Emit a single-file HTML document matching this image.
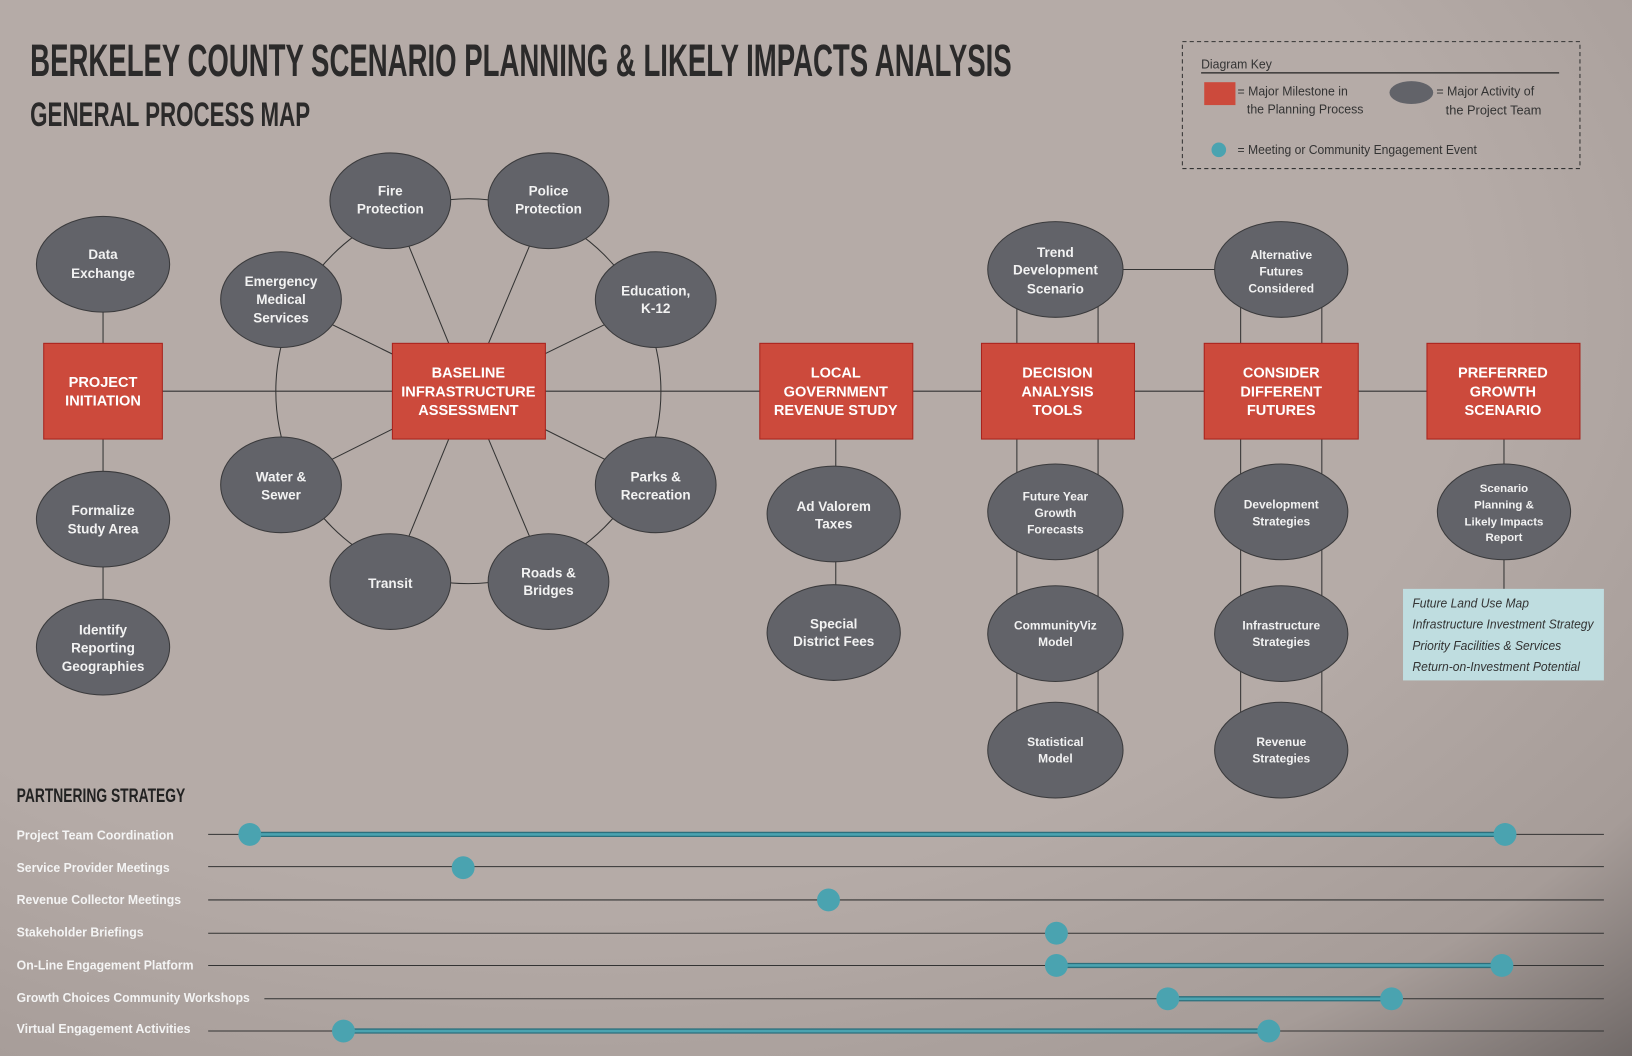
<!DOCTYPE html>
<html><head><meta charset="utf-8"><style>
html,body{margin:0;padding:0;width:1632px;height:1056px;overflow:hidden;}
svg{display:block}
text{font-family:"Liberation Sans",Arial,sans-serif;}
.n{fill:#f2f2f2;font-weight:bold;font-size:13px;text-anchor:middle}
.r{fill:#fff;font-weight:bold;font-size:14px;text-anchor:middle}
.p{fill:#f4f4f4;font-weight:bold;font-size:12.5px}
</style></head><body>
<svg width="1632" height="1056" viewBox="0 0 1568 1015" preserveAspectRatio="none" xmlns="http://www.w3.org/2000/svg">
<defs>
<radialGradient id="bg" cx="0.35" cy="0.3" r="1.0">
<stop offset="0.55" stop-color="#b5aba7"/><stop offset="0.8" stop-color="#a69c98"/><stop offset="1" stop-color="#615b5a"/>
</radialGradient>
</defs>
<rect width="1568" height="1015" fill="url(#bg)"/>
<text x="29" y="73" font-size="44" font-weight="bold" fill="#2b2a2a" textLength="943" lengthAdjust="spacingAndGlyphs">BERKELEY COUNTY SCENARIO PLANNING &amp; LIKELY IMPACTS ANALYSIS</text>
<text x="29" y="121" font-size="33" font-weight="bold" fill="#2b2a2a" textLength="269" lengthAdjust="spacingAndGlyphs">GENERAL PROCESS MAP</text>

<rect x="1136" y="40" width="382" height="122" fill="none" stroke="#333" stroke-dasharray="4,3"/>
<text x="1154" y="66" font-size="12.5" fill="#333" textLength="68" lengthAdjust="spacingAndGlyphs">Diagram Key</text>
<line x1="1154" y1="70" x2="1498" y2="70" stroke="#222" stroke-width="1.2"/>
<rect x="1157" y="79" width="30" height="22" fill="#cc4a3c"/>
<text x="1189" y="92" font-size="12.5" fill="#333" textLength="106" lengthAdjust="spacingAndGlyphs">= Major Milestone in</text>
<text x="1198" y="109" font-size="12.5" fill="#333" textLength="112" lengthAdjust="spacingAndGlyphs">the Planning Process</text>
<ellipse cx="1356" cy="89" rx="21" ry="11" fill="#626369"/>
<text x="1380" y="92" font-size="12.5" fill="#333" textLength="94" lengthAdjust="spacingAndGlyphs">= Major Activity of</text>
<text x="1389" y="110" font-size="12.5" fill="#333" textLength="92" lengthAdjust="spacingAndGlyphs">the Project Team</text>
<circle cx="1171" cy="144" r="7" fill="#4aa3b0"/>
<text x="1189" y="148" font-size="12.5" fill="#333" textLength="230" lengthAdjust="spacingAndGlyphs">= Meeting or Community Engagement Event</text>

<g stroke="#333" stroke-width="1" fill="none">
<line x1="156" y1="376" x2="1371" y2="376"/>
<line x1="99" y1="254" x2="99" y2="622"/>
<circle cx="450" cy="376" r="185"/>
<line x1="450" y1="376" x2="375" y2="193"/><line x1="450" y1="376" x2="527" y2="193"/>
<line x1="450" y1="376" x2="270" y2="288"/><line x1="450" y1="376" x2="630" y2="288"/>
<line x1="450" y1="376" x2="270" y2="466"/><line x1="450" y1="376" x2="630" y2="466"/>
<line x1="450" y1="376" x2="375" y2="559"/><line x1="450" y1="376" x2="527" y2="559"/>
<line x1="803" y1="376" x2="803" y2="608"/>
<line x1="977" y1="259" x2="977" y2="721"/><line x1="1055" y1="259" x2="1055" y2="721"/>
<line x1="1192" y1="259" x2="1192" y2="721"/><line x1="1270" y1="259" x2="1270" y2="721"/>
<line x1="1013" y1="259" x2="1231" y2="259"/>
<line x1="1445" y1="376" x2="1445" y2="566"/>
</g>

<g fill="#626369" stroke="#3a3a3c" stroke-width="1">
<ellipse cx="99" cy="254" rx="64" ry="46"/>
<ellipse cx="99" cy="499" rx="64" ry="46"/>
<ellipse cx="99" cy="622" rx="64" ry="46"/>
<ellipse cx="375" cy="193" rx="58" ry="46"/>
<ellipse cx="527" cy="193" rx="58" ry="46"/>
<ellipse cx="270" cy="288" rx="58" ry="46"/>
<ellipse cx="630" cy="288" rx="58" ry="46"/>
<ellipse cx="270" cy="466" rx="58" ry="46"/>
<ellipse cx="630" cy="466" rx="58" ry="46"/>
<ellipse cx="375" cy="559" rx="58" ry="46"/>
<ellipse cx="527" cy="559" rx="58" ry="46"/>
<ellipse cx="801" cy="494" rx="64" ry="46"/>
<ellipse cx="801" cy="608" rx="64" ry="46"/>
<ellipse cx="1014" cy="259" rx="65" ry="46"/>
<ellipse cx="1014" cy="492" rx="65" ry="46"/>
<ellipse cx="1014" cy="609" rx="65" ry="46"/>
<ellipse cx="1014" cy="721" rx="65" ry="46"/>
<ellipse cx="1231" cy="259" rx="64" ry="46"/>
<ellipse cx="1231" cy="492" rx="64" ry="46"/>
<ellipse cx="1231" cy="609" rx="64" ry="46"/>
<ellipse cx="1231" cy="721" rx="64" ry="46"/>
<ellipse cx="1445" cy="492" rx="64" ry="46"/>
</g>
<g fill="#cc4a3c" stroke="#a8231d" stroke-width="1">
<rect x="42" y="330" width="114" height="92"/>
<rect x="377" y="330" width="147" height="92"/>
<rect x="730" y="330" width="147" height="92"/>
<rect x="943" y="330" width="147" height="92"/>
<rect x="1157" y="330" width="148" height="92"/>
<rect x="1371" y="330" width="147" height="92"/>
</g>
<rect x="1348" y="566" width="193" height="88" fill="#bfdde0"/>
<g font-size="12.5" font-style="italic" fill="#333">
<text x="1357" y="584" textLength="112" lengthAdjust="spacingAndGlyphs">Future Land Use Map</text>
<text x="1357" y="604" textLength="174" lengthAdjust="spacingAndGlyphs">Infrastructure Investment Strategy</text>
<text x="1357" y="625" textLength="143" lengthAdjust="spacingAndGlyphs">Priority Facilities &amp; Services</text>
<text x="1357" y="645" textLength="161" lengthAdjust="spacingAndGlyphs">Return-on-Investment Potential</text>
</g>

<g class="r">
<text x="99" y="372">PROJECT</text><text x="99" y="390">INITIATION</text>
<text x="450" y="363">BASELINE</text><text x="450" y="381">INFRASTRUCTURE</text><text x="450" y="399">ASSESSMENT</text>
<text x="803" y="363">LOCAL</text><text x="803" y="381">GOVERNMENT</text><text x="803" y="399">REVENUE STUDY</text>
<text x="1016" y="363">DECISION</text><text x="1016" y="381">ANALYSIS</text><text x="1016" y="399">TOOLS</text>
<text x="1231" y="363">CONSIDER</text><text x="1231" y="381">DIFFERENT</text><text x="1231" y="399">FUTURES</text>
<text x="1444" y="363">PREFERRED</text><text x="1444" y="381">GROWTH</text><text x="1444" y="399">SCENARIO</text>
</g>
<g class="n">
<text x="99" y="249">Data</text><text x="99" y="267">Exchange</text>
<text x="99" y="495">Formalize</text><text x="99" y="513">Study Area</text>
<text x="99" y="610">Identify</text><text x="99" y="627">Reporting</text><text x="99" y="645">Geographies</text>
<text x="375" y="188">Fire</text><text x="375" y="205">Protection</text>
<text x="527" y="188">Police</text><text x="527" y="205">Protection</text>
<text x="270" y="275">Emergency</text><text x="270" y="292">Medical</text><text x="270" y="310">Services</text>
<text x="630" y="284">Education,</text><text x="630" y="301">K-12</text>
<text x="270" y="463">Water &amp;</text><text x="270" y="480">Sewer</text>
<text x="630" y="463">Parks &amp;</text><text x="630" y="480">Recreation</text>
<text x="375" y="565">Transit</text>
<text x="527" y="555">Roads &amp;</text><text x="527" y="572">Bridges</text>
<text x="801" y="491">Ad Valorem</text><text x="801" y="508">Taxes</text>
<text x="801" y="604">Special</text><text x="801" y="621">District Fees</text>
<text x="1014" y="247">Trend</text><text x="1014" y="264">Development</text><text x="1014" y="282">Scenario</text>
<text x="1231" y="249" font-size="11.5">Alternative</text><text x="1231" y="265" font-size="11.5">Futures</text><text x="1231" y="281" font-size="11.5">Considered</text>
<text x="1014" y="481" font-size="11.5">Future Year</text><text x="1014" y="497" font-size="11.5">Growth</text><text x="1014" y="513" font-size="11.5">Forecasts</text>
<text x="1014" y="605" font-size="11.5">CommunityViz</text><text x="1014" y="621" font-size="11.5">Model</text>
<text x="1014" y="717" font-size="11.5">Statistical</text><text x="1014" y="733" font-size="11.5">Model</text>
<text x="1231" y="489" font-size="11.5">Development</text><text x="1231" y="505" font-size="11.5">Strategies</text>
<text x="1231" y="605" font-size="11.5">Infrastructure</text><text x="1231" y="621" font-size="11.5">Strategies</text>
<text x="1231" y="717" font-size="11.5">Revenue</text><text x="1231" y="733" font-size="11.5">Strategies</text>
<text x="1445" y="473" font-size="11">Scenario</text><text x="1445" y="489" font-size="11">Planning &amp;</text><text x="1445" y="505" font-size="11">Likely Impacts</text><text x="1445" y="520" font-size="11">Report</text>
</g>

<text x="16" y="771" font-size="19" font-weight="bold" fill="#222" textLength="162" lengthAdjust="spacingAndGlyphs">PARTNERING STRATEGY</text>
<g stroke="#333" stroke-width="1">
<line x1="200" y1="802" x2="1541" y2="802"/>
<line x1="200" y1="833" x2="1541" y2="833"/>
<line x1="200" y1="865" x2="1541" y2="865"/>
<line x1="200" y1="897" x2="1541" y2="897"/>
<line x1="200" y1="928" x2="1541" y2="928"/>
<line x1="254" y1="960" x2="1541" y2="960"/>
<line x1="200" y1="991" x2="1541" y2="991"/>
</g>
<g stroke="#2c6f7c" stroke-width="5">
<line x1="240" y1="802" x2="1446" y2="802"/>
<line x1="1015" y1="928" x2="1443" y2="928"/>
<line x1="1122" y1="960" x2="1337" y2="960"/>
<line x1="330" y1="991" x2="1219" y2="991"/>
</g>
<g stroke="#4aa3b0" stroke-width="2.5">
<line x1="240" y1="802" x2="1446" y2="802"/>
<line x1="1015" y1="928" x2="1443" y2="928"/>
<line x1="1122" y1="960" x2="1337" y2="960"/>
<line x1="330" y1="991" x2="1219" y2="991"/>
</g>
<g fill="#4aa3b0">
<circle cx="240" cy="802" r="11"/><circle cx="1446" cy="802" r="11"/>
<circle cx="445" cy="834" r="11"/>
<circle cx="796" cy="865" r="11"/>
<circle cx="1015" cy="897" r="11"/>
<circle cx="1015" cy="928" r="11"/><circle cx="1443" cy="928" r="11"/>
<circle cx="1122" cy="960" r="11"/><circle cx="1337" cy="960" r="11"/>
<circle cx="330" cy="991" r="11"/><circle cx="1219" cy="991" r="11"/>
</g>
<g class="p">
<text x="16" y="807" textLength="151" lengthAdjust="spacingAndGlyphs">Project Team Coordination</text>
<text x="16" y="838" textLength="147" lengthAdjust="spacingAndGlyphs">Service Provider Meetings</text>
<text x="16" y="869" textLength="158" lengthAdjust="spacingAndGlyphs">Revenue Collector Meetings</text>
<text x="16" y="900" textLength="122" lengthAdjust="spacingAndGlyphs">Stakeholder Briefings</text>
<text x="16" y="932" textLength="170" lengthAdjust="spacingAndGlyphs">On-Line Engagement Platform</text>
<text x="16" y="963" textLength="224" lengthAdjust="spacingAndGlyphs">Growth Choices Community Workshops</text>
<text x="16" y="993" textLength="167" lengthAdjust="spacingAndGlyphs">Virtual Engagement Activities</text>
</g>
</svg>
</body></html>
